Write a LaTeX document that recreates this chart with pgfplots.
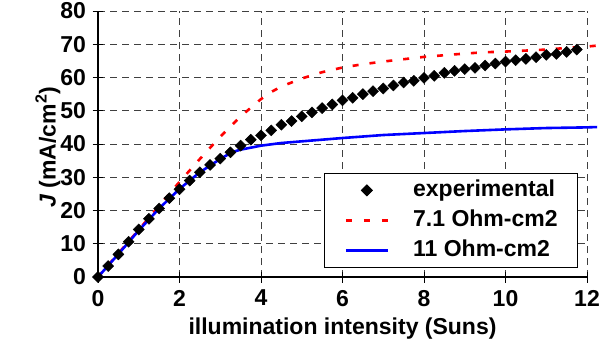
\documentclass[border=0pt]{standalone}
\usepackage{fontspec}
\setmainfont{Liberation Sans}
\usepackage{pgfplots}
\pgfplotsset{compat=1.18}
\pgfplotsset{
  legmark/.style={legend image code/.code={\draw[##1] plot coordinates {(21pt,0pt)};}},
  legdash/.style={legend image code/.code={\draw[##1, dash pattern=on 6pt off 12pt] (0pt,0pt) -- (42pt,0pt);}},
  legline/.style={legend image code/.code={\draw[##1] (0pt,0pt) -- (42pt,0pt);}},
  expstyle/.style={only marks, mark=square*, mark size=3.9pt, mark options={rotate=45, fill=black, draw=black}},
  redstyle/.style={red, line width=2.6pt, dash pattern=on 6pt off 11pt},
  bluestyle/.style={blue, line width=2.6pt},
}
\pgfplotstableread{
x y
0 0
0.25 3.3
0.5 6.8
0.75 10.6
1.0 14.3
1.25 17.5
1.5 20.6
1.75 23.7
2.0 26.4
2.25 29.0
2.5 31.5
2.75 33.7
3.0 35.6
3.25 37.5
3.5 39.5
3.75 41.3
4.0 42.6
4.25 44.1
4.5 45.8
4.75 46.9
5.0 48.3
5.25 49.5
5.5 50.8
5.75 51.9
6.0 53.1
6.25 53.9
6.5 55.0
6.75 55.9
7.0 56.7
7.25 57.6
7.5 58.5
7.75 59.0
8.0 59.9
8.25 60.5
8.5 61.4
8.75 62.0
9.0 62.5
9.25 62.9
9.5 63.6
9.75 64.2
10.0 64.8
10.25 65.2
10.5 65.6
10.75 66.1
11.0 66.8
11.25 67.1
11.5 67.7
11.75 68.4
}\expdata
\pgfplotstableread{
x y
0 0
1 14.2
2 28.6
2.5 35.5
3 42.2
3.5 48.3
4 53.5
4.2 55.3
4.5 57.3
5 59.7
5.5 61.6
6 63.0
6.5 64.0
7 64.8
7.5 65.5
8 66.2
8.5 66.7
9 67.2
9.5 67.6
10 67.8
10.5 68.1
11 68.4
11.5 68.9
12 69.3
12.25 69.6
}\redseven
\pgfplotstableread{
x y
0 0
0.5 6.9
1 14.0
1.5 20.6
2 26.5
2.5 31.5
3 35.5
3.3 37.6
3.5 38.3
3.75 38.9
4 39.5
4.5 40.3
5 40.8
5.5 41.3
6 41.8
7 42.7
8 43.3
9 43.9
10 44.4
11 44.8
12 45.0
12.25 45.1
}\blueeleven
\begin{document}
\begin{tikzpicture}
\path[use as bounding box, fill=white] (0,0) rectangle (615pt,356pt);
\begin{axis}[
  at={(98pt,79pt)}, anchor=south west,
  scale only axis, width=489pt, height=266pt,
  xmin=0, xmax=12, ymin=0, ymax=80,
  xtick={0,2,...,12}, ytick={0,10,...,80},
  axis x line*=bottom, axis y line*=left,
  axis line style={black, line width=1.1pt, -},
  tick align=center, major tick length=11pt,
  tick style={black, line width=0.9pt},
  grid=major,
  major grid style={black!75, dash pattern=on 7pt off 5pt, line width=0.9pt},
  clip=false,
  /pgf/number format/assume math mode=true,
  ticklabel style={font=\fontsize{23}{26}\selectfont\bfseries},
  yticklabel style={xshift=-3pt},
  xticklabel style={yshift=-4pt},
  label style={font=\fontsize{23}{26}\selectfont\bfseries},
  xlabel={illumination intensity (Suns)},
  ylabel={{\itshape J} (mA/cm\textsuperscript{2})},
  xlabel style={yshift=-5pt},
  ylabel style={yshift=-7pt, xshift=-3pt},
  legend style={at={(0.9816,0.391)}, anchor=north east,
    draw=black, line width=0.8pt, fill=white,
    font=\fontsize{23}{26}\selectfont\bfseries,
    inner xsep=20pt, inner ysep=6pt,
    row sep=8pt, column sep=24pt,
    nodes={inner xsep=0pt, inner ysep=0pt, text height=17pt, text depth=5pt, anchor=west}},
  legend cell align=left,
]
\addplot[redstyle, forget plot] table[x=x,y=y] {\redseven};
\addplot[bluestyle, forget plot] table[x=x,y=y] {\blueeleven};
\addplot[expstyle, forget plot] table[x=x,y=y] {\expdata};
\addlegendimage{expstyle, legmark}
\addlegendentry{experimental}
\addlegendimage{redstyle, legdash}
\addlegendentry{7.1 Ohm-cm2}
\addlegendimage{bluestyle, legline}
\addlegendentry{11 Ohm-cm2}
\end{axis}
\end{tikzpicture}
\end{document}
